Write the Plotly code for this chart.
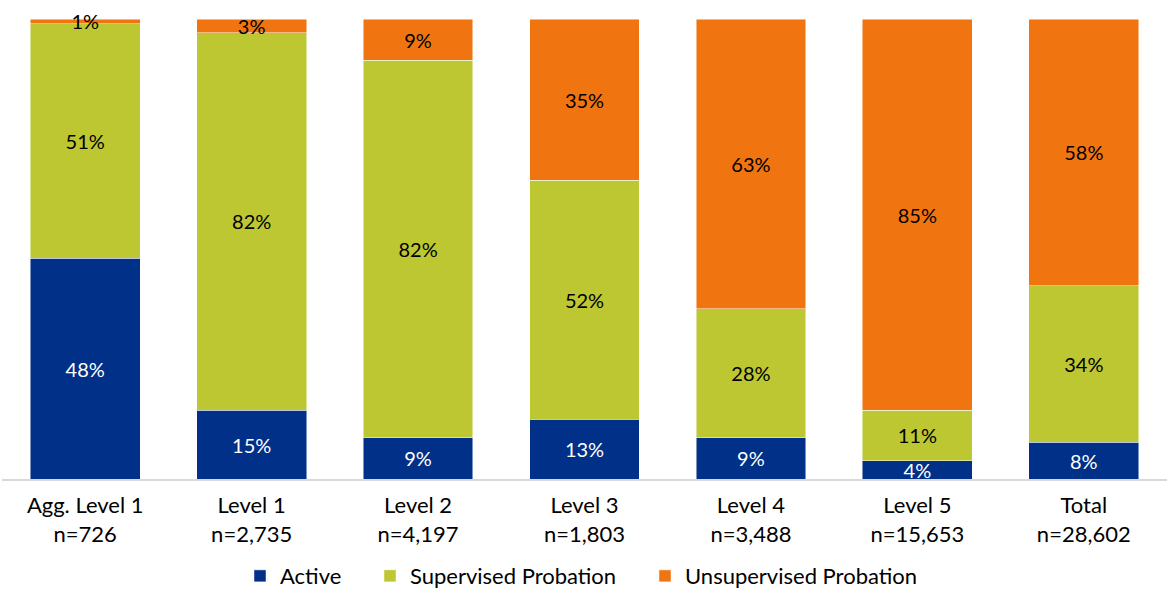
import plotly.graph_objects as go

categories = ["Agg. Level 1<br>n=726", "Level 1<br>n=2,735", "Level 2<br>n=4,197",
              "Level 3<br>n=1,803", "Level 4<br>n=3,488", "Level 5<br>n=15,653",
              "Total<br>n=28,602"]
active = [48, 15, 9, 13, 9, 4, 8]
supervised = [51, 82, 82, 52, 28, 11, 34]
unsupervised = [1, 3, 9, 35, 63, 85, 58]

FONT = "Lato"
series = [
    ("Active", active, "#003087", "white", "legend"),
    ("Supervised Probation", supervised, "#BDC732", "black", "legend2"),
    ("Unsupervised Probation", unsupervised, "#F07511", "black", "legend3"),
]
legend_x = [240, 370, 645]  # pixel left of each legend box

fig = go.Figure()
for name, vals, color, tcolor, lg in series:
    fig.add_trace(go.Bar(
        name=name, x=categories, y=vals, legend=lg,
        marker=dict(color=color, line=dict(color="rgba(255,255,255,0.6)", width=0.8)),
        text=[f"{v}%" for v in vals], textposition="inside",
        insidetextanchor="middle", textangle=0,
        textfont=dict(color=tcolor, size=20, family=FONT),
        cliponaxis=False,
    ))

W, L, R = 1167, 2, 0
def leg(px):
    return dict(orientation="h", x=(px - L) / (W - L - R), xanchor="left",
                y=-0.211, yanchor="middle", font=dict(size=22, family=FONT),
                itemwidth=30, bgcolor="rgba(0,0,0,0)")

fig.update_layout(
    barmode="stack", bargap=0.34,
    width=W, height=590,
    margin=dict(l=L, r=R, t=19, b=111, autoexpand=False),
    plot_bgcolor="white", paper_bgcolor="white",
    font=dict(family=FONT, size=20, color="black"),
    uniformtext=dict(minsize=20, mode="show"),
    showlegend=True,
    legend=leg(legend_x[0]), legend2=leg(legend_x[1]), legend3=leg(legend_x[2]),
    xaxis=dict(showline=True, linecolor="#D9D9D9", linewidth=1.5,
               ticks="outside", ticklen=6, tickcolor="rgba(0,0,0,0)",
               tickfont=dict(size=22, family=FONT)),
    yaxis=dict(visible=False, range=[0, 100], showgrid=False),
)
fig.write_html("out.html", config={"displayModeBar": False},
               post_script="document.body.style.margin='0';")
